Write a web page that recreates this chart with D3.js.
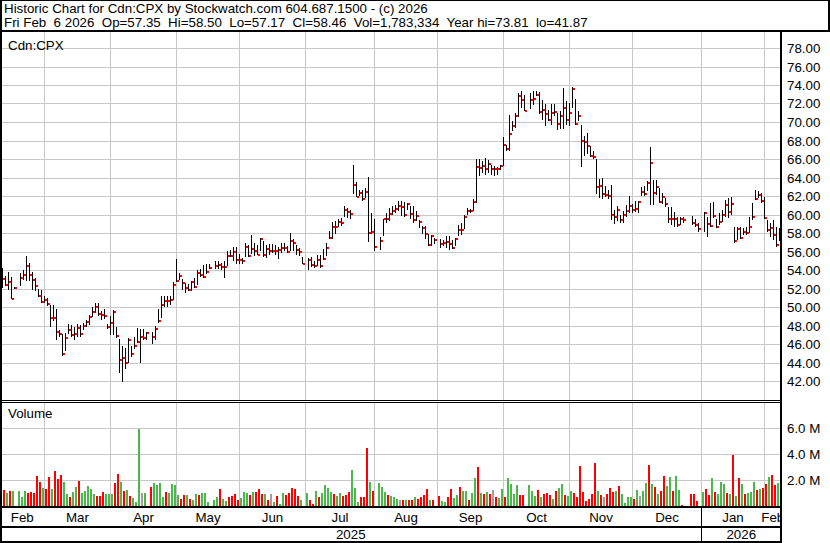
<!DOCTYPE html>
<meta charset="utf-8">
<style>

body {
  margin: 0;
  background: #fff;
}

text {
  font-family: "Liberation Sans", Arial, sans-serif;
  font-size: 13.33px;
  fill: #000;
  white-space: pre;
}

.grid line {
  stroke: #c8c8c8;
  stroke-width: 1px;
  shape-rendering: crispEdges;
}

.frame rect {
  fill: #000;
  shape-rendering: crispEdges;
}

</style>
<svg width="830" height="543"></svg>
<script src="https://d3js.org/d3.v7.min.js"></script>
<script>

// one slot per weekday, Feb 10 2025 .. Feb 6 2026; null = market holiday
var firstDay = new Date(2025, 1, 10),
    endDay = new Date(2026, 1, 7);

var high = [
  54.2,53.38,53.74,53.23,52.2,null,53.67,54.02,55.46,54.74,
  53.81,53.13,51.94,51.87,51.15,50.94,50.26,50.26,49.79,47.56,
  47.13,47.2,48.21,48.1,47.85,48.21,48.1,48.28,48.57,49.18,
  50.0,50.44,50.44,49.54,49.79,48.21,49.0,49.65,47.85,46.49,
  45.77,45.59,46.67,45.77,46.77,47.74,47.66,47.66,47.3,null,
  47.3,47.91,49.73,51.18,51.18,51.18,51.18,52.74,55.17,53.72,
  52.99,52.63,52.45,52.81,53.18,53.97,54.08,54.55,54.7,54.7,
  null,54.92,54.99,54.81,54.92,56.01,56.15,56.51,56.51,55.72,
  55.35,56.88,56.73,57.82,56.88,56.73,57.46,57.09,56.73,56.8,
  56.8,56.65,56.5,56.95,56.9,56.6,57.96,57.3,56.65,56.4,
  55.42,null,55.3,55.42,54.95,55.67,55.67,56.3,56.95,58.2,
  59.2,59.3,59.56,59.67,60.87,60.65,60.5,65.3,63.5,62.6,
  62.6,62.84,64.04,60.2,59.5,null,57.6,59.56,60.2,60.65,
  60.87,61.0,61.5,61.42,61.3,61.24,60.95,60.95,60.34,59.44,
  58.71,58.71,57.92,57.81,57.45,null,57.34,57.27,57.63,57.7,
  57.27,57.45,58.9,59.08,59.98,60.7,60.59,61.68,66.0,66.0,
  65.75,66.1,65.93,65.4,65.28,65.14,65.39,68.4,67.56,70.8,
  70.09,70.99,73.15,73.33,72.9,null,73.1,73.33,73.33,73.23,
  72.43,71.9,71.35,71.9,71.9,70.99,71.17,73.7,72.25,72.07,
  73.81,72.5,71.17,69.72,68.53,68.82,67.38,66.84,66.0,63.84,
  63.95,63.12,62.69,63.23,60.52,60.88,59.98,60.34,61.06,61.96,
  61.17,61.42,61.42,62.97,63.12,63.59,67.3,63.77,63.7,62.83,
  62.29,61.75,60.85,60.77,60.31,59.69,59.69,59.69,null,null,
  59.84,59.48,59.12,null,60.31,59.77,61.2,61.39,59.48,60.13,
  60.49,61.57,61.75,61.93,58.68,58.68,58.68,58.5,58.68,59.77,
  61.2,62.65,62.58,62.29,61.93,59.41,59.05,59.41,58.68,58.5
];

var low = [
  52.05,52.3,51.87,50.87,51.9,null,52.23,52.95,52.84,52.77,
  51.87,51.69,51.08,50.44,50.44,50.08,47.85,48.46,46.41,46.77,
  44.69,45.23,47.03,46.77,46.41,46.77,46.77,47.56,47.85,48.1,
  48.93,49.36,49.0,48.64,48.71,47.64,46.92,46.92,46.67,42.9,
  41.87,43.26,43.97,44.58,45.41,46.13,44.0,46.46,46.46,null,
  45.99,46.46,48.28,48.82,49.98,49.98,50.27,50.71,52.74,52.89,
  51.8,51.54,51.72,51.72,52.01,52.38,53.25,53.1,53.61,54.08,
  null,54.08,54.08,53.97,53.18,54.45,55.43,54.99,54.63,54.63,
  54.7,55.43,55.43,55.72,55.53,55.64,56.08,55.43,55.35,55.67,
  55.85,55.67,55.2,55.8,56.04,55.85,56.04,56.04,55.67,55.5,
  54.69,null,54.04,54.33,54.22,54.47,54.22,55.05,55.5,57.3,
  57.3,57.85,58.6,58.8,59.78,59.67,59.56,62.2,61.85,61.96,
  61.5,61.75,57.0,57.85,56.04,null,56.15,57.67,59.13,59.3,
  59.93,60.2,60.4,59.8,59.73,60.52,59.5,59.08,59.26,58.53,
  57.92,57.34,56.62,56.55,56.84,null,56.33,56.55,56.37,56.19,
  56.26,56.55,57.63,57.81,58.43,59.98,60.16,60.34,61.2,64.2,
  64.5,64.3,64.5,64.3,64.2,64.3,64.78,65.21,66.84,66.9,
  69.0,69.36,70.56,71.53,71.2,null,71.4,71.89,72.8,70.88,
  70.2,69.56,70.09,69.72,70.63,69.11,69.2,69.25,69.72,69.54,
  71.53,69.72,70.09,65.14,66.37,66.58,66.22,66.0,62.25,61.78,
  61.67,61.89,61.67,59.44,59.0,59.26,59.08,59.08,59.73,60.16,
  60.16,60.23,60.16,61.96,62.04,62.5,61.06,61.03,62.14,61.24,
  61.13,60.77,59.12,58.86,58.68,58.61,58.86,59.12,null,null,
  58.86,58.68,58.14,null,58.14,57.53,58.68,59.59,58.5,58.86,
  59.23,59.77,59.59,59.95,56.88,57.24,57.32,57.78,57.78,57.96,
  59.41,61.57,61.75,61.21,59.48,58.14,57.6,57.24,56.52,57.17
];

var close = [
  53.06,52.34,52.73,50.9,52.01,null,53.16,53.49,54.38,53.41,
  52.95,52.23,51.15,50.58,50.72,50.29,48.78,48.86,47.28,47.13,
  44.91,46.63,47.49,46.92,47.06,47.78,47.06,47.99,48.35,48.89,
  49.5,49.97,49.25,49.11,49.0,47.81,48.25,49.47,46.85,44.26,
  44.48,43.9,46.41,44.87,45.77,46.2,46.72,46.7,47.19,null,
  46.72,47.59,48.53,50.2,50.64,50.6,50.71,52.38,52.81,53.36,
  52.6,52.05,51.8,52.7,52.16,53.68,53.47,53.28,53.79,54.23,
  null,54.45,54.55,54.3,54.34,55.53,55.5,55.93,55.13,55.1,
  54.99,56.51,55.53,56.3,56.08,55.64,57.35,55.64,56.26,56.04,
  56.1,56.1,56.2,56.4,56.4,55.93,57.13,56.87,56.15,55.93,
  54.69,null,55.13,54.55,54.4,55.1,54.47,55.2,56.33,57.45,
  58.6,58.6,59.2,59.05,60.5,60.3,60.1,63.2,61.93,62.3,
  61.67,62.4,58.04,58.1,56.47,null,57.13,59.5,59.5,60.04,
  60.4,60.6,60.87,60.77,59.98,61.17,60.09,59.44,59.87,59.15,
  58.53,57.88,56.66,57.63,57.2,null,56.77,56.91,56.98,56.84,
  56.37,57.34,58.28,58.28,59.73,60.34,60.34,61.31,65.14,65.03,
  65.28,64.92,65.5,64.92,64.92,64.92,65.28,67.56,67.13,68.75,
  69.6,70.63,72.8,72.43,71.24,null,72.36,72.54,72.97,71.1,
  71.28,70.85,70.27,70.92,71.13,69.83,70.63,71.46,70.2,70.92,
  73.52,69.83,70.63,67.92,67.81,67.45,66.37,66.19,62.97,63.05,
  62.25,62.14,61.96,59.98,59.73,60.52,59.44,59.91,60.34,60.88,
  60.52,60.59,61.31,62.4,62.25,63.41,65.57,62.36,63.0,61.35,
  61.93,61.13,59.55,59.55,59.48,58.9,59.55,59.41,null,null,
  59.05,58.9,58.47,null,60.2,58.94,58.76,59.84,58.68,59.19,
  59.98,61.06,60.27,61.13,57.14,58.47,57.46,58.11,58.04,58.68,
  59.77,61.71,62.14,61.5,59.62,58.32,58.54,57.75,56.67,58.46
];

// millions of shares
var volume = [
  0.56,1.21,1.03,1.13,1.13,null,1.13,0.69,1.13,1.0,
  1.05,1.0,2.28,1.82,1.38,1.28,2.2,1.28,2.67,2.05,
  2.36,1.82,0.9,0.69,1.08,1.44,1.9,1.03,1.13,1.51,
  1.33,0.9,0.74,0.74,1.05,0.9,0.9,0.9,1.74,2.44,
  1.82,1.13,1.21,0.74,0.64,0.31,5.95,1.0,1.0,null,
  1.44,1.74,1.59,1.74,0.67,1.05,0.97,1.67,1.59,0.87,
  0.51,0.87,0.82,0.56,0.46,0.95,0.87,0.97,0.97,0.31,
  null,0.49,0.69,1.28,0.56,0.36,0.67,0.77,0.9,0.49,
  0.62,1.05,1.03,0.82,1.08,1.08,1.28,0.92,0.9,0.49,
  0.9,0.31,0.74,0.18,1.03,0.82,1.03,1.36,1.31,0.77,
  0.46,null,0.97,0.49,0.15,1.15,0.69,0.97,1.62,1.38,
  1.1,0.9,0.79,1.03,0.74,0.82,1.08,2.74,1.41,0.31,
  0.67,0.67,4.46,1.82,1.13,null,1.74,1.44,1.08,0.87,
  0.75,0.67,0.56,0.44,0.46,0.49,0.46,0.46,0.67,0.51,
  0.67,0.82,1.28,0.44,0.44,null,0.74,0.36,0.28,0.67,
  1.28,0.59,0.82,1.44,1.13,1.13,0.44,0.97,2.13,2.97,
  0.97,0.9,1.05,0.9,1.21,0.67,0.59,1.28,0.67,2.13,
  1.67,0.9,1.59,0.82,0.82,null,1.59,1.13,0.74,1.21,
  0.67,0.9,0.97,0.82,0.51,1.13,1.36,1.67,0.82,0.74,
  1.13,0.97,0.67,3.05,1.05,0.36,0.51,0.9,3.28,1.13,
  0.82,0.67,0.9,1.36,1.05,1.13,1.51,0.9,0.2,0.67,
  0.67,0.51,1.21,0.74,1.13,1.74,3.13,1.67,1.44,0.9,
  1.13,2.28,1.51,2.2,1.13,2.28,1.2,0.1,null,null,
  0.9,0.9,0.36,null,1.05,1.28,0.82,2.13,1.05,0.9,
  1.82,1.67,0.97,0.9,3.9,0.74,2.13,1.67,0.9,0.97,
  1.05,1.82,1.21,1.28,1.36,1.67,2.2,2.36,1.59,1.78
];

// u = up day, d = down day, n = unchanged, . = holiday
var volumeDir = (
  "ndudu.uuud" + "dddduddudd" + "duuduuduuu" + "uuddduuudd" + "ududuuunu." +
  "duuuuduuuu" + "dduduuduuu" + ".uuduudddd" + "uuududddud" + "nuduuddddd" +
  "u.udduduuu" + "uduuddduuu" + "dddud.uuud" + "uuunduddud" + "dddud.duud" +
  "duuduuduud" + "ududnduudu" + "uuudd.uuud" + "uddduduudu" + "uddddddddu" +
  "dnddduduuu" + "udunuududu" + "dduuduud.." + "ddd.uddudu" + "uududududu" +
  "uududduddu"
).split("");

var priceTicks = d3.range(42, 79, 2),
    volumeTicks = [2, 4, 6],
    monthNames = ["Feb", "Mar", "Apr", "May", "Jun", "Jul", "Aug", "Sep", "Oct", "Nov", "Dec", "Jan", "Feb"],
    yearNames = ["2025", "2026"];

var headerLines = [
  "Historic Chart for Cdn:CPX by Stockwatch.com 604.687.1500 - (c) 2026",
  "Fri Feb  6 2026  Op=57.35  Hi=58.50  Lo=57.17  Cl=58.46  Vol=1,783,334  Year hi=73.81  lo=41.87"
];

var volColor = { u: "#4cb84c", d: "#ff0000", n: "#a0a0a0" };

var svg = d3.select("svg"),
    plotLeft = 2,
    plotRight = 780,
    priceTop = 32,
    priceBottom = 400,
    volTop = 403,
    volBottom = 506;

var days = d3.timeDay.range(firstDay, endDay).filter(function(d) { return d.getDay() % 6 !== 0; });

var x = d3.scaleLinear()
    .domain([0, days.length - 1])
    .range([2.5, 779.5]);

var y = d3.scaleLinear()
    .domain([42, 78])
    .range([381, 48]);

var yVol = d3.scaleLinear()
    .domain([0, 6])
    .range([volBottom, 428]);

// month boundaries sit on the last weekday slot on or before the 1st
var monthStarts = d3.timeMonth.range(new Date(2025, 2, 1), new Date(2026, 2, 1));
var monthX = monthStarts.map(function(m) { return x(d3.bisectRight(days, m) - 1); });
var janX = monthX[10];

svg.append("rect")
    .attr("width", 830)
    .attr("height", 543)
    .attr("fill", "#fff");

// grid
var grid = svg.append("g").attr("class", "grid");

grid.selectAll(".hp")
  .data(priceTicks)
  .enter().append("line")
    .attr("x1", plotLeft)
    .attr("x2", plotRight)
    .attr("y1", function(d) { return Math.round(y(d)) + 0.5; })
    .attr("y2", function(d) { return Math.round(y(d)) + 0.5; });

grid.selectAll(".hv")
  .data(volumeTicks)
  .enter().append("line")
    .attr("x1", plotLeft)
    .attr("x2", plotRight)
    .attr("y1", function(d) { return Math.round(yVol(d)) + 0.5; })
    .attr("y2", function(d) { return Math.round(yVol(d)) + 0.5; });

grid.selectAll(".vp")
  .data(monthX)
  .enter().append("line")
    .attr("x1", function(d) { return d; })
    .attr("x2", function(d) { return d; })
    .attr("y1", priceTop)
    .attr("y2", priceBottom);

grid.selectAll(".vv")
  .data(monthX)
  .enter().append("line")
    .attr("x1", function(d) { return d; })
    .attr("x2", function(d) { return d; })
    .attr("y1", volTop)
    .attr("y2", volBottom);

// price bars: high-low line with a red close tick
var slots = d3.range(days.length).filter(function(i) { return high[i] != null; });

var bars = svg.append("g")
    .attr("shape-rendering", "crispEdges");

bars.selectAll("line")
  .data(slots)
  .enter().append("line")
    .attr("x1", function(i) { return x(i); })
    .attr("x2", function(i) { return x(i); })
    .attr("y1", function(i) { return Math.round(y(high[i])); })
    .attr("y2", function(i) { return Math.max(Math.round(y(low[i])), Math.round(y(high[i])) + 1); })
    .attr("stroke", "#000")
    .attr("stroke-width", 1);

bars.selectAll("rect")
  .data(slots)
  .enter().append("rect")
    .attr("x", function(i) { return x(i) + 0.5; })
    .attr("y", function(i) { return Math.round(y(close[i])) - 1; })
    .attr("width", 2)
    .attr("height", 2)
    .attr("fill", "#ff0000");

// volume
svg.append("g")
    .attr("shape-rendering", "crispEdges")
  .selectAll("rect")
  .data(slots)
  .enter().append("rect")
    .attr("x", function(i) { return x(i) - 2.5; })
    .attr("y", function(i) { return Math.round(yVol(volume[i])); })
    .attr("width", 2)
    .attr("height", function(i) { return volBottom - Math.round(yVol(volume[i])); })
    .attr("fill", function(i) { return volColor[volumeDir[i]]; });

// frame
var frame = svg.append("g").attr("class", "frame");
[
  [0, 0, 830, 1],
  [828, 0, 2, 32],
  [0, 30, 830, 2],
  [0, 0, 2, 543],
  [780, 30, 2, 513],
  [0, 400, 781, 1],
  [0, 402, 781, 1],
  [0, 506, 782, 2],
  [0, 526, 782, 2],
  [0, 541, 782, 2],
  [janX - 0.5, 508, 1, 33]
].forEach(function(r) {
  frame.append("rect")
      .attr("x", r[0])
      .attr("y", r[1])
      .attr("width", r[2])
      .attr("height", r[3]);
});

// header
svg.selectAll(".header")
  .data(headerLines)
  .enter().append("text")
    .attr("x", 4)
    .attr("y", function(d, i) { return 13 + i * 14; })
    .text(function(d) { return d; });

svg.append("text").attr("x", 8).attr("y", 50).text("Cdn:CPX");
svg.append("text").attr("x", 8).attr("y", 418).text("Volume");

// right axis labels
svg.selectAll(".plabel")
  .data(priceTicks)
  .enter().append("text")
    .attr("x", 787)
    .attr("y", function(d) { return Math.round(y(d)) + 5; })
    .text(function(d) { return d.toFixed(2); });

svg.selectAll(".vlabel")
  .data(volumeTicks)
  .enter().append("text")
    .attr("x", 787)
    .attr("y", function(d) { return Math.round(yVol(d)) + 5; })
    .text(function(d) { return d.toFixed(1) + " M"; });

// month and year rows
svg.append("clipPath")
    .attr("id", "axis-clip")
  .append("rect")
    .attr("x", plotLeft)
    .attr("y", 500)
    .attr("width", plotRight - plotLeft)
    .attr("height", 43);

var edges = [0].concat(monthX, [plotRight + 1]);

svg.append("g")
    .attr("clip-path", "url(#axis-clip)")
  .selectAll("text")
  .data(monthNames)
  .enter().append("text")
    .attr("x", function(d, i) { return (edges[i] + edges[i + 1]) / 2; })
    .attr("y", 522)
    .attr("text-anchor", "middle")
    .text(function(d) { return d; });

var yearEdges = [0, janX, plotRight + 1];

svg.selectAll(".year")
  .data(yearNames)
  .enter().append("text")
    .attr("x", function(d, i) { return (yearEdges[i] + yearEdges[i + 1]) / 2; })
    .attr("y", 539)
    .attr("text-anchor", "middle")
    .text(function(d) { return d; });

</script>
